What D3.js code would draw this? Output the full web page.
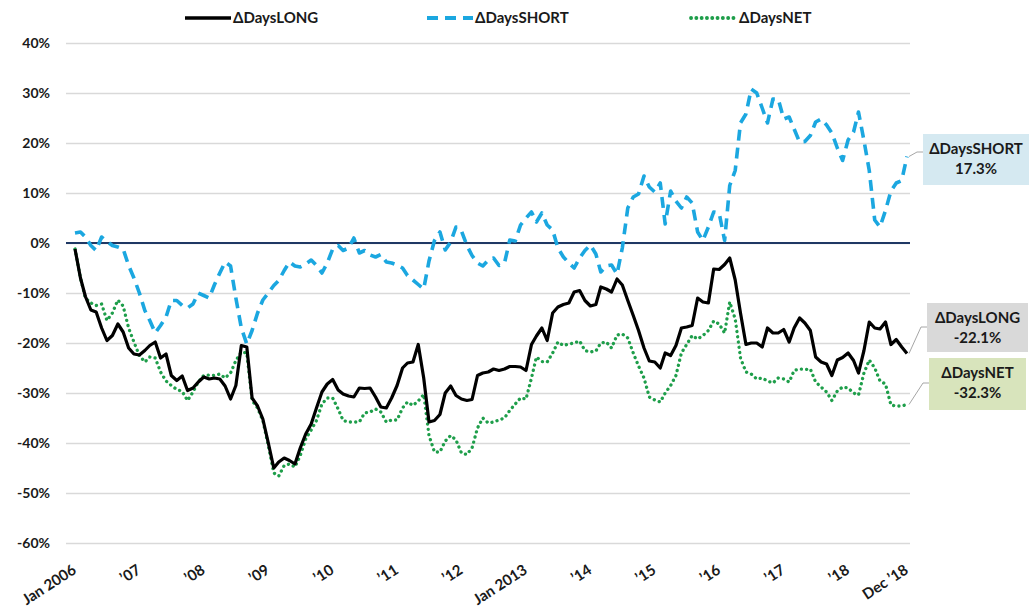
<!DOCTYPE html>
<html>
<head>
<meta charset="utf-8">
<script src="https://cdn.jsdelivr.net/npm/d3@7"></script>
<style>
body { margin: 0; background: #fff; }
text { font-family: Lato, "Open Sans", sans-serif; font-weight: bold; fill: #1a1a1a; }
</style>
</head>
<body>
<script>
// monthly values, Jan 2006 .. Dec 2018 (one row per year)
var longVals = [
  -1.2, -7, -10.7, -13.4, -13.8, -17, -19.5, -18.5, -16.2, -17.8, -21, -22.2,
  -22.4, -21.5, -20.5, -19.8, -23, -22.2, -26.5, -27.5, -26.6, -29.5, -29, -27.8,
  -26.8, -27.2, -27, -27.2, -28.6, -31.2, -28.5, -20.5, -20.8, -31, -32.6, -35.2,
  -40, -45, -43.8, -43, -43.5, -44.2, -41, -38.2, -36.2, -33, -29.8, -28.2,
  -27.3, -29.4, -30.2, -30.6, -30.8, -29, -29.1, -29, -30.8, -32.8, -33, -31,
  -28.5, -25, -24, -23.8, -20.3, -27, -35.8, -35.5, -34.3, -30, -28.6, -30.5,
  -31.2, -31.5, -31.3, -26.5, -26, -25.8, -25.2, -25.5, -25.2, -24.7, -24.7, -24.8,
  -25.5, -20.3, -18.6, -17, -19.5, -14, -12.8, -12.3, -12, -9.8, -9.5, -11.5,
  -12.6, -12.3, -8.8, -9.2, -9.8, -7.2, -8.4, -11.5, -14.5, -17.5, -21, -23.6,
  -23.8, -25, -22, -22.5, -20.5, -17, -16.8, -16.5, -11, -11.8, -12, -5.2,
  -5.3, -4.3, -3, -7.4, -14, -20.3, -20, -20, -20.8, -17, -18, -18,
  -17.3, -19.8, -17, -15, -16, -17.5, -22.8, -23.8, -24.2, -26.5, -23.4, -22.9,
  -22, -23.5, -26, -21.5, -15.8, -17, -17.2, -15.8, -20.3, -19.3, -20.8, -22.1
];
var shortVals = [
  2, 2.2, 1.2, -0.5, -1.5, 1.2, 0.3, -0.5, -0.8, -1.2, -4.5, -7,
  -10, -13.5, -15.5, -18, -16.5, -14.8, -11.5, -11.5, -12.5, -13, -12.2, -10,
  -10.5, -11, -8.4, -6, -3.8, -4.6, -11, -17, -20.2, -17.5, -14, -11.4,
  -10, -8.5, -7.5, -5.5, -3.8, -4.6, -4.8, -4.2, -3.4, -4.5, -6, -4,
  -1.2, -0.5, -1.5, -1, 1, -2, -1.5, -2.4, -2.8, -2.3, -3.8, -4,
  -4.4, -5, -6.5, -7.4, -8.3, -9.2, -3.6, 0.5, 2.2, -1.4, 0.2, 3.2,
  2.4, -0.5, -2.5, -4, -4.6, -3.4, -3, -4.5, -4, 0.6, 0.4, 3.6,
  5, 6.2, 4.2, 6, 3.6, 2.6, -1, -2.8, -4, -5, -3, -1.5,
  -0.4, -2.2, -5.8, -4.6, -4.4, -6.2, -1, 7, 9.2, 9.8, 13.4, 11.2,
  10.2, 12, 3.8, 10.4, 8.4, 7, 9.2, 8, 2.2, 0.5, 3.2, 6.2,
  6, 0.5, 11.5, 14.5, 24, 25.8, 30.8, 30, 27, 24, 28.8, 28.8,
  24.8, 25.2, 22.8, 20.2, 20.3, 21.5, 24.2, 24.8, 23.6, 22, 19, 16.5,
  20.6, 22.2, 26.2, 20.5, 14.5, 4.6, 3.2, 6.5, 10.4, 12, 12.5, 17.3
];
var netVals = [
  -1.2, -7, -11, -12, -12.5, -12.2, -15.5, -14, -11.4, -12.6, -17, -19.8,
  -22.5, -23.8, -22.8, -23, -25.8, -27.6, -28.5, -29.3, -29.7, -31.5, -29.8, -27.8,
  -26.5, -26.4, -26.5, -26.2, -27, -26, -23.5, -21.8, -22, -31.5, -33, -35.5,
  -40.5, -46, -46.6, -44.5, -44.2, -44.8, -42.5, -39.2, -37.4, -35.5, -32.2, -31,
  -31, -33.2, -35.5, -35.8, -35.8, -35.8, -34, -33.8, -33.2, -33.8, -35.8, -35.4,
  -35.4, -33, -31.8, -32.5, -31.6, -30.3, -38.5, -41.8, -41.8, -39.6, -38.5, -39.4,
  -42, -42.3, -41, -37, -35, -36, -35.8, -35.4, -35, -33.5, -32.2, -31,
  -31.2, -27, -22.8, -23.7, -23.8, -22, -19.8, -20.5, -20.2, -20, -19.6, -21.5,
  -21.8, -21.6, -20, -19.8, -21, -18.4, -18.2, -19, -22, -24.6, -27, -30.8,
  -31.4, -31.8, -30, -28.5, -26.5, -22, -20.3, -18.5, -19.2, -18.5, -17.5, -15.6,
  -16.2, -18, -11.8, -15.2, -23, -25.8, -26.2, -27.2, -27, -27.6, -28, -27,
  -27.2, -27.8, -25.5, -25.2, -25.3, -25.2, -27.8, -28.8, -29.8, -31.5, -29.6, -28.8,
  -29, -30, -30.4, -26, -23.4, -25, -27.6, -28.2, -32.4, -32.6, -32.6, -32.3
];
var seriesNames = ["\u0394DaysLONG", "\u0394DaysSHORT", "\u0394DaysNET"];
var tickLabels = ["Jan 2006", "\u201907", "\u201908", "\u201909", "\u201910", "\u201911", "\u201912",
  "Jan 2013", "\u201914", "\u201915", "\u201916", "\u201917", "\u201918", "Dec \u201918"];
var yTicks = [-60, -50, -40, -30, -20, -10, 0, 10, 20, 30, 40];

var dates = longVals.map(function(d, i) { return new Date(2006, i, 1); });
var tickDates = d3.range(2006, 2019).map(function(yr) { return new Date(yr, 0, 1); });
tickDates.push(new Date(2018, 11, 1));

var W = 1032, H = 608;
var svg = d3.select("body").append("svg").attr("width", W).attr("height", H);

var x = d3.scaleTime().domain([dates[0], dates[dates.length - 1]]).range([75, 907]);
var y = d3.scaleLinear().domain([-60, 40]).range([543, 43]);
var gridLeft = 66, gridRight = 910;

// gridlines + y labels
var yAxis = svg.append("g")
  .attr("transform", "translate(" + gridLeft + ",0)")
  .call(d3.axisLeft(y).tickValues(yTicks).tickSize(-(gridRight - gridLeft)).tickPadding(16)
    .tickFormat(function(d) { return d + "%"; }));
yAxis.select(".domain").remove();
yAxis.selectAll("line").attr("stroke", "#d9d9d9").attr("stroke-width", 1.5);
yAxis.selectAll("text").style("font-size", "14px");

// zero line
svg.append("line")
  .attr("x1", gridLeft).attr("x2", gridRight)
  .attr("y1", y(0)).attr("y2", y(0))
  .attr("stroke", "#1f3864").attr("stroke-width", 2);

// x axis labels
var xAxis = svg.append("g")
  .attr("transform", "translate(0," + y(-60) + ")")
  .call(d3.axisBottom(x).tickValues(tickDates).tickSize(0)
    .tickFormat(function(d, i) { return tickLabels[i]; }));
xAxis.select(".domain").remove();
xAxis.selectAll("text")
  .style("font-size", "15px")
  .style("text-anchor", "end")
  .attr("y", 0).attr("dy", "0.35em")
  .attr("transform", "translate(-1,25) rotate(-33)");

var line = d3.line()
  .x(function(d, i) { return x(dates[i]); })
  .y(function(d) { return y(d); });

var styles = [
  {vals: longVals, color: "#000000", width: 3.2, dash: null, cap: "butt"},
  {vals: shortVals, color: "#1ba7e0", width: 3.6, dash: "11 7", cap: "butt"},
  {vals: netVals, color: "#1e9e4a", width: 3.3, dash: "0.1 5.2", cap: "round"}
];

// draw short first, then net, then long on top like the reference
[1, 2, 0].forEach(function(k) {
  var s = styles[k];
  svg.append("path")
    .datum(s.vals)
    .attr("fill", "none")
    .attr("stroke", s.color)
    .attr("stroke-width", s.width)
    .attr("stroke-linejoin", "round")
    .attr("stroke-linecap", s.cap)
    .attr("stroke-dasharray", s.dash)
    .attr("d", line);
});

// legend
var legendX = [185, 427, 691];
styles.forEach(function(s, k) {
  var g = svg.append("g").attr("transform", "translate(" + legendX[k] + ",18)");
  g.append("line").attr("x1", 0).attr("x2", 46).attr("y1", 0).attr("y2", 0)
    .attr("stroke", s.color).attr("stroke-width", s.width + 0.5)
    .attr("stroke-linecap", s.cap).attr("stroke-dasharray", s.dash);
  g.append("text").attr("x", 48).attr("y", 0).attr("dy", "0.35em")
    .style("font-size", "15px").text(seriesNames[k]);
});

// end labels
var last = longVals.length - 1;
var boxes = [
  {k: 1, x: 923, y: 134, w: 106, h: 51, fill: "#d5e9f1", ly: 152},
  {k: 0, x: 927, y: 303, w: 101, h: 49, fill: "#d9d9d9", ly: 327},
  {k: 2, x: 929, y: 358, w: 97, h: 52, fill: "#d8e4bc", ly: 383}
];
boxes.forEach(function(b) {
  var v = styles[b.k].vals[last];
  var px = x(dates[last]), py = y(v);
  svg.append("path")
    .attr("d", "M" + (px + 2) + "," + py + "L" + (b.x - 6) + "," + b.ly + "L" + b.x + "," + b.ly)
    .attr("fill", "none").attr("stroke", "#a6a6a6").attr("stroke-width", 1);
  svg.append("rect").attr("x", b.x).attr("y", b.y).attr("width", b.w).attr("height", b.h)
    .attr("fill", b.fill);
  var t = svg.append("text").attr("x", b.x + b.w / 2).attr("y", b.y + 20)
    .style("text-anchor", "middle").style("font-size", "15px");
  t.append("tspan").attr("x", b.x + b.w / 2).text(seriesNames[b.k]);
  t.append("tspan").attr("x", b.x + b.w / 2).attr("dy", 20).text(v.toFixed(1) + "%");
});
</script>
</body>
</html>
